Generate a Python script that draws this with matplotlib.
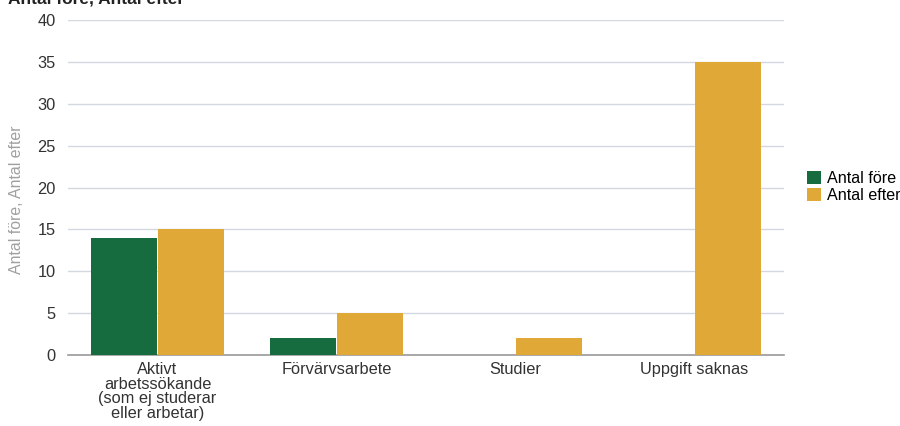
import matplotlib.pyplot as plt
import numpy as np

categories = ['Aktivt\narbetssökande\n(som ej studerar\neller arbetar)',
              'Förvärvsarbete', 'Studier', 'Uppgift saknas']
antal_fore = [14, 2, 0, 0]
antal_efter = [15, 5, 2, 35]
series_names = ['Antal före', 'Antal efter']

green = '#166b3f'
yellow = '#e0a937'

plt.rcParams['font.family'] = ['Liberation Sans', 'DejaVu Sans']

fig = plt.figure(figsize=(9, 4.26), dpi=100)
ax = fig.add_axes([68 / 900, 1 - 355 / 426, 716 / 900, 335 / 426])

x = np.arange(len(categories))
w = 0.37
ax.bar(x - w / 2 - 0.003, antal_fore, width=w, color=green, label=series_names[0], zorder=3)
ax.bar(x + w / 2 + 0.003, antal_efter, width=w, color=yellow, label=series_names[1], zorder=3)

ax.set_xlim(-0.5, len(categories) - 0.5)
ax.set_ylim(0, 40)
ax.set_yticks(range(0, 41, 5))
ax.yaxis.grid(True, color='#d3d8e0', linewidth=1, zorder=0)
ax.set_axisbelow(True)

for s in ['top', 'right', 'left']:
    ax.spines[s].set_visible(False)
ax.spines['bottom'].set_color('#9a9a9a')
ax.spines['bottom'].set_linewidth(1.2)

ax.set_xticks(x)
ax.set_xticklabels(categories, fontsize=11.8, color='#333333', linespacing=0.98)
ax.tick_params(axis='x', length=0, pad=5)
ax.tick_params(axis='y', length=0, pad=9, labelsize=11.8, labelcolor='#333333')

ax.set_ylabel('Antal före, Antal efter', fontsize=11.4, color='#a0a0a0')
ax.yaxis.set_label_coords(-0.0615, 0.463)

fig.text(8 / 900, 1 - 3 / 426, 'Antal före, Antal efter', fontsize=12.5,
         fontweight='bold', color='#222222', va='baseline', ha='left')

ax.legend(loc='center left', bbox_to_anchor=(807 / 900, 1 - 187 / 426),
          bbox_transform=fig.transFigure, frameon=False, fontsize=11.6,
          handlelength=0.85, handleheight=0.85, handletextpad=0.4,
          labelspacing=0.1, borderaxespad=0, borderpad=0)

fig.savefig('out.png', dpi=100)
